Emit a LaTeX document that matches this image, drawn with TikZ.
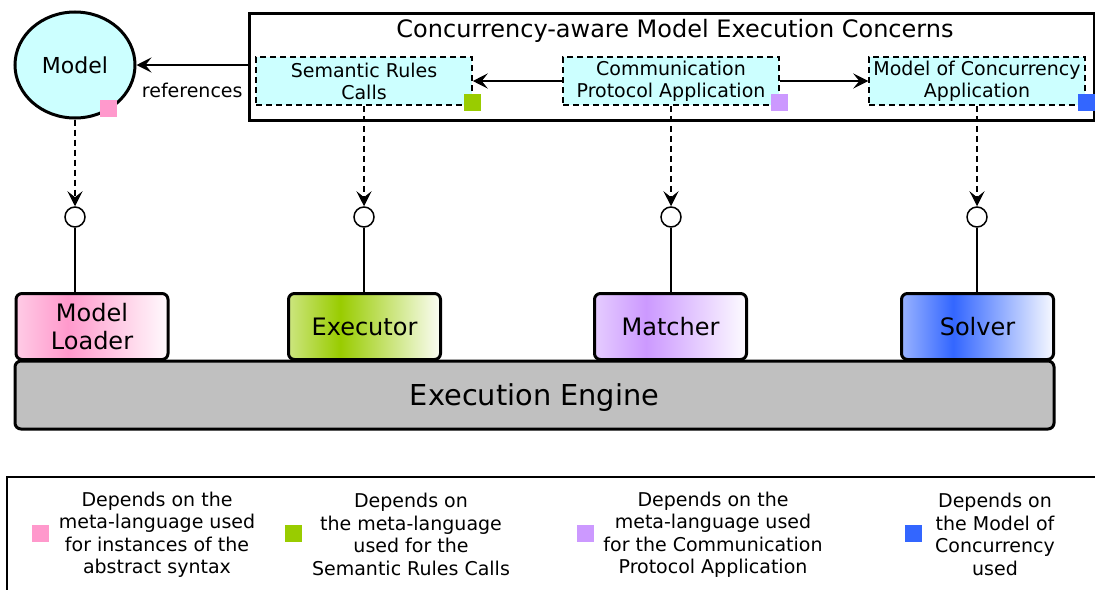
\documentclass[tikz,border=0pt]{standalone}
\usepackage{fontspec}
\setmainfont{DejaVu Sans}
\usetikzlibrary{arrows.meta,shapes.geometric}
\definecolor{cyanfill}{HTML}{CCFFFF}
\definecolor{pinkdep}{HTML}{FF99CC}
\definecolor{greendep}{HTML}{99CC00}
\definecolor{purpledep}{HTML}{CC99FF}
\definecolor{bluedep}{HTML}{3366FF}
\definecolor{enginegray}{HTML}{C0C0C0}
\colorlet{compcol}{pinkdep}
\pgfdeclarehorizontalshading[compcol]{compshade}{100bp}{color(0bp)=(compcol!50!white); color(25bp)=(compcol!50!white); color(42bp)=(compcol); color(75bp)=(compcol!4!white); color(100bp)=(compcol!4!white)}
\tikzset{
	concern/.style={draw, dash pattern=on 3pt off 2pt, fill=cyanfill, minimum width=108pt, minimum height=24pt, align=center, font=\fontsize{9.5}{11}\selectfont, inner sep=0pt},
	iface/.style={draw, circle, fill=white, minimum size=10pt, inner sep=0pt},
	comp/.style={draw, line width=1.5pt, rounded corners=3pt, minimum width=76pt, minimum height=33pt, align=center, font=\fontsize{12}{14}\selectfont, /utils/exec={\colorlet{compcol}{#1}}, shading=compshade},
	dep/.style={fill=#1, minimum size=8.5pt, inner sep=0pt},
	legend/.style={align=center, font=\fontsize{9.5}{11.25}\selectfont},
	link/.style={-{Stealth[length=7.5pt,width=7.5pt,inset=3pt]}}
}

\begin{document}
\begin{tikzpicture}[x=0.5pt, y=-0.5pt, line width=0.75pt]
				\useasboundingbox (0,0) rectangle (1095,589);
				
				\node[ellipse, draw, line width=1.5pt, fill=cyanfill, minimum width=60pt, minimum height=53pt, inner sep=0pt, font=\fontsize{11}{13}\selectfont] (model) at (75,65) {Model};
				\node[dep=pinkdep] (depmodel) at (108,108) {};
				
				\node[draw, line width=1.5pt, minimum width=422.5pt, minimum height=53.5pt, anchor=north west, inner sep=0pt] (concerns) at (248,12) {};
				\node[font=\fontsize{12}{14}\selectfont] (title) at (675,30.5) {Concurrency-aware Model Execution Concerns};
				
				\node[concern] (sem) at (364,81) {Semantic Rules\\Calls};
				\node[concern] (comm) at (671,81) {Communication\\Protocol Application};
				\node[concern] (moc) at (977,81) {Model of Concurrency\\Application};
				\node[dep=greendep] (depsem) at (472,102.5) {};
				\node[dep=purpledep] (depcomm) at (779.5,102.5) {};
				\node[dep=bluedep] (depmoc) at (1086,102.5) {};
				
				\draw[link] (concerns.west |- model.east) -- node[below=5.5pt, font=\fontsize{9.5}{11}\selectfont] (refs) {references} (model.east);
				\draw[link] (comm.west) -- (sem.east);
				\draw[link] (comm.east) -- (moc.west);
				
				\node[iface] (ifmodel) at (75,217) {};
				\node[iface] (ifsem) at (364,217) {};
				\node[iface] (ifcomm) at (671,217) {};
				\node[iface] (ifmoc) at (977,217) {};
				
				\draw[link, dash pattern=on 3pt off 2pt] (model.south) -- (ifmodel.north);
				\draw[link, dash pattern=on 3pt off 2pt] (sem.south) -- (ifsem.north);
				\draw[link, dash pattern=on 3pt off 2pt] (comm.south) -- (ifcomm.north);
				\draw[link, dash pattern=on 3pt off 2pt] (moc.south) -- (ifmoc.north);
				
				\node[comp=pinkdep] (loader) at (92,326.5) {Model\\Loader};
				\node[comp=greendep] (executor) at (364.5,326.5) {Executor};
				\node[comp=purpledep] (matcher) at (670.5,326.5) {Matcher};
				\node[comp=bluedep] (solver) at (977.5,326.5) {Solver};
				
				\draw (ifmodel.south) -- (ifmodel.south |- loader.north);
				\draw (ifsem.south) -- (ifsem.south |- executor.north);
				\draw (ifcomm.south) -- (ifcomm.south |- matcher.north);
				\draw (ifmoc.south) -- (ifmoc.south |- solver.north);
				
				\node[draw, line width=1.5pt, rounded corners=3pt, fill=enginegray, minimum width=519.5pt, minimum height=34pt, text depth=0pt, font=\fontsize{14.4}{17}\selectfont] (engine) at (534.5,395) {Execution Engine};
				
				\draw[line width=0.6pt] (7,600) -- (7,477) -- (1100,477);
				\node[dep=pinkdep] (keyloader) at (40,533) {};
				\node[legend] (txtloader) at (157,534.5) {Depends on the\\meta-language used\\for instances of the\\abstract syntax};
				\node[dep=greendep] (keyexecutor) at (293,533) {};
				\node[legend] (txtexecutor) at (411,534.5) {Depends on\\the meta-language\\used for the\\Semantic Rules Calls};
				\node[dep=purpledep] (keymatcher) at (585,533) {};
				\node[legend] (txtmatcher) at (713,534.5) {Depends on the\\meta-language used\\for the Communication\\Protocol Application};
				\node[dep=bluedep] (keysolver) at (913.5,533) {};
				\node[legend] (txtsolver) at (995,534.5) {Depends on\\the Model of\\Concurrency\\used};
			\end{tikzpicture}
\end{document}
